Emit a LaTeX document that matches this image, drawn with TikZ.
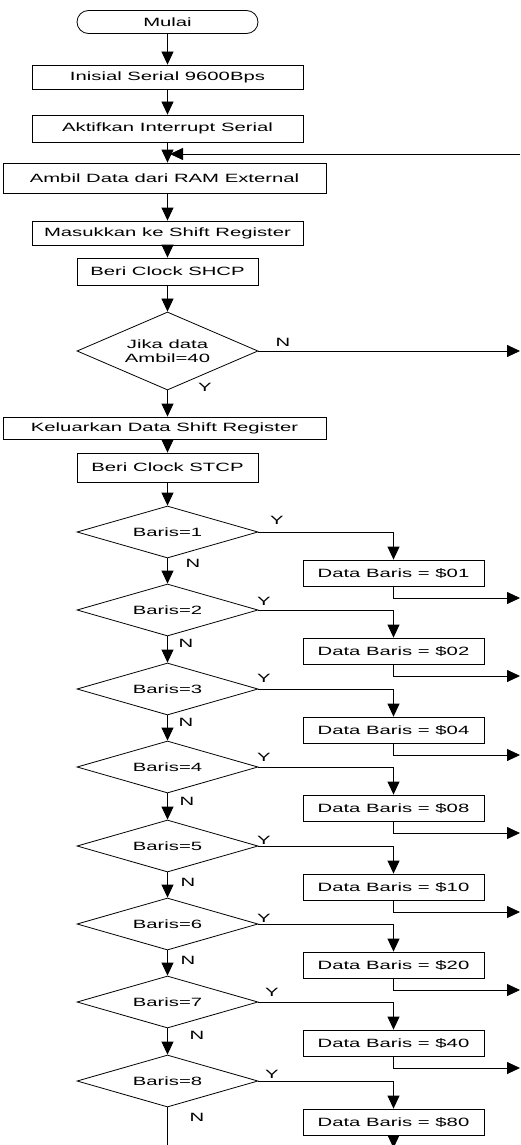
\documentclass[tikz,border=0pt]{standalone}
\usepackage{fontspec}
\setmainfont{Liberation Sans}[FakeStretch=1.69]
\usetikzlibrary{shapes.geometric,shapes.misc,arrows.meta,positioning}

\tikzset{
    proses/.style={draw, rectangle, minimum height=26pt, inner sep=0pt},
    mulaibox/.style={draw, rounded rectangle, minimum width=181pt, minimum height=23pt, inner sep=0pt},
    pilih/.style={draw, diamond, aspect=3.5, minimum width=181pt, minimum height=52pt, inner sep=0pt, align=center},
    databox/.style={proses, minimum width=181pt},
    teks/.style={inner sep=0pt},
    panah/.style={-{Triangle[length=13pt,width=12pt]}},
}

\begin{document}
\begin{tikzpicture}[x=1pt, y=-1pt, line width=0.8pt, font=\fontsize{12}{14}\selectfont]
    \useasboundingbox (0,0) rectangle (520,1145);

    \node[mulaibox] (mulai) at (167.5,22) {Mulai};
    \node[proses, minimum width=271pt, minimum height=24pt] (inisial) at (167.5,77) {Inisial Serial 9600Bps};
    \node[proses, minimum width=271pt, minimum height=27pt] (aktif) at (167.5,128.5) {Aktifkan Interrupt Serial};
    \node[proses, minimum width=323pt, minimum height=30pt] (ambil) at (164.5,178) {Ambil Data dari RAM External};
    \node[proses, minimum width=271pt, minimum height=24pt] (masuk) at (167.5,233) {Masukkan ke Shift Register};
    \node[proses, minimum width=181pt, minimum height=27pt] (shcp) at (167.5,271.5) {Beri Clock SHCP};
    \node[pilih, minimum height=78pt] (jika) at (167.5,351) {Jika data\\Ambil=40};
    \node[proses, minimum width=323pt, minimum height=22pt] (keluar) at (164.5,428) {Keluarkan Data Shift Register};
    \node[proses, minimum width=181pt, minimum height=29pt] (stcp) at (167.5,467.5) {Beri Clock STCP};

    \node[pilih] (b1) at (167.5,532) {Baris=1};
    \node[pilih] (b2) at (167.5,610) {Baris=2};
    \node[pilih] (b3) at (167.5,689) {Baris=3};
    \node[pilih] (b4) at (167.5,767) {Baris=4};
    \node[pilih] (b5) at (167.5,846) {Baris=5};
    \node[pilih] (b6) at (167.5,924) {Baris=6};
    \node[pilih] (b7) at (167.5,1002) {Baris=7};
    \node[pilih] (b8) at (167.5,1081) {Baris=8};

    \node[databox] (d1) at (393.5,573) {Data Baris = \$01};
    \node[databox] (d2) at (393.5,651) {Data Baris = \$02};
    \node[databox] (d3) at (393.5,730) {Data Baris = \$04};
    \node[databox] (d4) at (393.5,808) {Data Baris = \$08};
    \node[databox] (d5) at (393.5,887) {Data Baris = \$10};
    \node[databox] (d6) at (393.5,965) {Data Baris = \$20};
    \node[databox] (d7) at (393.5,1043) {Data Baris = \$40};
    \node[databox] (d8) at (393.5,1122) {Data Baris = \$80};

    \coordinate (balik) at (520,154);
    \coordinate (gabung) at (170,154);
    \coordinate (jikaN) at (520,351);
    \coordinate (r1) at (520,598);
    \coordinate (r2) at (520,676);
    \coordinate (r3) at (520,755);
    \coordinate (r4) at (520,833);
    \coordinate (r5) at (520,912);
    \coordinate (r6) at (520,990);
    \coordinate (r7) at (520,1068);
    \coordinate (bawah) at (393.5,1148);
    \coordinate (bawahN) at (167.5,1150);

    \draw[panah] (mulai) -- (inisial);
    \draw[panah] (inisial) -- (aktif);
    \draw[panah] (aktif.south) -- (aktif.south |- ambil.north);
    \draw[panah] (balik) -- (gabung);
    \draw[panah] (masuk.north |- ambil.south) -- (masuk);
    \draw[panah] (masuk) -- (shcp);
    \draw[panah] (shcp) -- (jika);
    \draw[panah] (jika) -- (jikaN);
    \draw[panah] (jika.south) -- (jika.south |- keluar.north);
    \draw[panah] (stcp.north |- keluar.south) -- (stcp);
    \draw[panah] (stcp) -- (b1);
    \draw[panah] (b1) -- (b2);
    \draw[panah] (b2) -- (b3);
    \draw[panah] (b3) -- (b4);
    \draw[panah] (b4) -- (b5);
    \draw[panah] (b5) -- (b6);
    \draw[panah] (b6) -- (b7);
    \draw[panah] (b7) -- (b8);
    \draw (b8) -- (bawahN);

    \draw[panah] (b1.east) -| (d1);
    \draw[panah] (b2.east) -| (d2);
    \draw[panah] (b3.east) -| (d3);
    \draw[panah] (b4.east) -| (d4);
    \draw[panah] (b5.east) -| (d5);
    \draw[panah] (b6.east) -| (d6);
    \draw[panah] (b7.east) -| (d7);
    \draw[panah] (b8.east) -| (d8);

    \draw[panah] (d1) |- (r1);
    \draw[panah] (d2) |- (r2);
    \draw[panah] (d3) |- (r3);
    \draw[panah] (d4) |- (r4);
    \draw[panah] (d5) |- (r5);
    \draw[panah] (d6) |- (r6);
    \draw[panah] (d7) |- (r7);
    \draw[panah] (d8) -- (bawah);

    \node[teks] (jN) at (283,342) {N};
    \node[teks] (jY) at (205,387) {Y};
    \node[teks] (y1) at (277,520) {Y};
    \node[teks] (y2) at (264,601) {Y};
    \node[teks] (y3) at (264,678) {Y};
    \node[teks] (y4) at (264,757) {Y};
    \node[teks] (y5) at (264,840) {Y};
    \node[teks] (y6) at (264,918) {Y};
    \node[teks] (y7) at (272,992) {Y};
    \node[teks] (y8) at (272,1074) {Y};
    \node[teks] (n1) at (193,563) {N};
    \node[teks] (n2) at (186,643) {N};
    \node[teks] (n3) at (186,722) {N};
    \node[teks] (n4) at (187,801) {N};
    \node[teks] (n5) at (188,882) {N};
    \node[teks] (n6) at (188,960) {N};
    \node[teks] (n7) at (197,1035) {N};
    \node[teks] (n8) at (197,1117) {N};
\end{tikzpicture}
\end{document}
